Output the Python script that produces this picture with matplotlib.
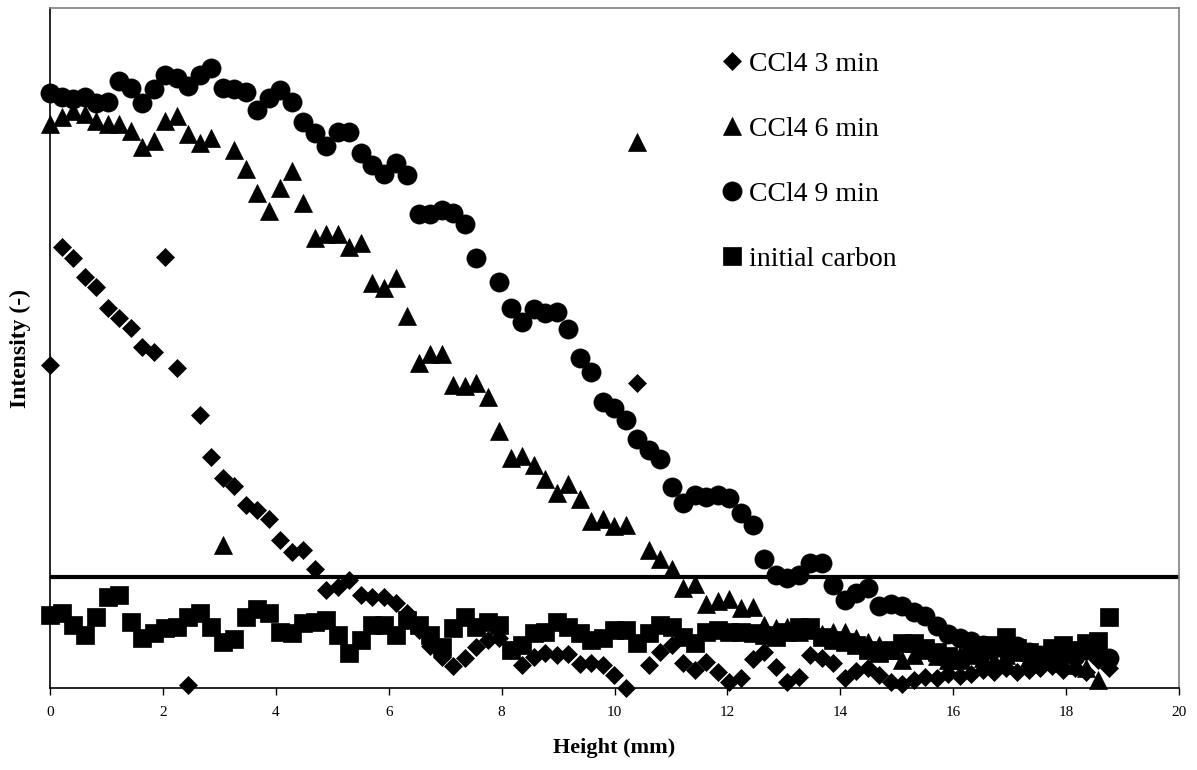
import numpy as np
import matplotlib.pyplot as plt

plt.rcParams['font.family'] = ['Liberation Serif', 'DejaVu Serif']

# sampling step along the column height (mm)
step = 0.204

nan = np.nan

# intensity readings (arbitrary units), one per sampled height
ccl4_3min = [323, 441, 430, 411, 401, 380, 370, 360, 341, 336,
             431, 320, 3, 273, 231, 210, 202, 183, 178, 169,
             148, 136, 138, 119, 98, 101, 108, 93, 91, 91,
             85, 75, 58, 42, 31, 22, 30, 41, 48, 50,
             38, 23, 31, 35, 33, 34, 24, 25, 23, 13,
             0, 305, 23, 36, 43, 25, 18, 26, 16, 6,
             10, 29, 36, 21, 6, 11, 33, 30, 25, 10,
             17, 20, 13, 6, 4, 8, 11, 10, 14, 12,
             14, 18, 16, 20, 16, 18, 20, 22, 18, 20,
             16, 28, 20]

ccl4_6min = [564, 571, 577, 574, 567, 564, 564, 557, 541, 547,
             567, 572, 554, 545, 550, 143, 538, 519, 495, 477,
             500, 517, 485, 450, 454, 454, 441, 445, 405, 400,
             410, 372, 325, 334, 334, 303, 302, 305, 291, 257,
             230, 232, 223, 209, 195, 204, 189, 167, 169, 162,
             163, 546, 138, 129, 119, 100, 104, 84, 87, 89,
             80, 81, 63, 60, 61, 56, 58, 54, 56, 56,
             50, 46, 43, 38, 28, 33, 38, 32, 28, 33,
             36, 30, 28, 33, 36, 30, 28, 32, 26, 23,
             20, 8]

ccl4_9min = [595, 591, 589, 591, 585, 586, 607, 600, 585, 599,
             613, 610, 602, 613, 620, 600, 599, 596, 578, 590,
             598, 586, 566, 555, 542, 556, 556, 535, 523, 514,
             525, 513, 474, 474, 478, 475, 464, 430, nan, 406,
             380, 366, 379, 375, 376, 359, 330, 316, 286, 280,
             268, 249, 238, 229, 201, 185, 193, 191, 193, 190,
             175, 163, 129, 113, 110, 113, 125, 125, 103, 88,
             95, 100, 82, 84, 82, 76, 72, 62, 54, 50,
             47, 43, 40, 38, 42, 36, 33, 38, 36, 32,
             38, 34, 30]

initial_carbon = [73, 75, 63, 53, 71, 91, 93, 66, 50, 55,
                  60, 61, 71, 75, 61, 46, 49, 71, 79, 75,
                  56, 55, 65, 66, 68, 53, 35, 48, 63, 63,
                  53, 68, 63, 53, 41, 60, 71, 61, 66, 63,
                  38, 43, 55, 56, 66, 61, 55, 48, 50, 58,
                  58, 45, 55, 63, 61, 51, 45, 56, 58, 56,
                  56, 55, 53, 51, 56, 61, 61, 51, 48, 46,
                  43, 38, 35, 38, 45, 45, 40, 36, 32, 28,
                  33, 38, 43, 51, 40, 36, 33, 40, 43, 38,
                  45, 47, 71]

threshold = 111

fig = plt.figure(figsize=(11.97, 7.70), dpi=100)
ax = fig.add_axes([0.0418, 0.1065, 0.9432, 0.8831])

ax.plot([0, 20], [threshold, threshold], color='black', lw=3,
        solid_capstyle='round', zorder=2)

series = [
    (ccl4_3min, 'D', 9.0, 'CCl4 3 min'),
    (ccl4_6min, '^', 13.5, 'CCl4 6 min'),
    (ccl4_9min, 'o', 13.8, 'CCl4 9 min'),
    (initial_carbon, 's', 13.0, 'initial carbon'),
]
for vals, m, ms, lab in series:
    y = np.array(vals, dtype=float)
    x = np.arange(len(y)) * step
    ax.plot(x, y, ls='none', marker=m, ms=ms, color='black',
            mec='black', mew=0.5, label=lab, clip_on=False, zorder=3)

ax.set_xlim(0, 20)
ax.set_ylim(0, 680)
ax.set_xticks(np.arange(0, 21, 2))
ax.set_yticks([])
ax.tick_params(axis='x', direction='out', length=5, width=1, labelsize=11, pad=8)

for s in ['top', 'right']:
    ax.spines[s].set_color('#808080')
    ax.spines[s].set_linewidth(1.2)
for s in ['left', 'bottom']:
    ax.spines[s].set_color('black')
    ax.spines[s].set_linewidth(1.2)

ax.set_xlabel('Height (mm)', fontsize=16, fontweight='bold', labelpad=14)
ax.set_ylabel('Intensity (-)', fontsize=17, fontweight='bold', labelpad=14)

leg = ax.legend(loc='upper left', bbox_to_anchor=(0.587, 0.952), frameon=False,
                fontsize=20, handlelength=0.6, handletextpad=0.3,
                labelspacing=1.42, borderaxespad=0)

fig.savefig('out.png', dpi=100)
